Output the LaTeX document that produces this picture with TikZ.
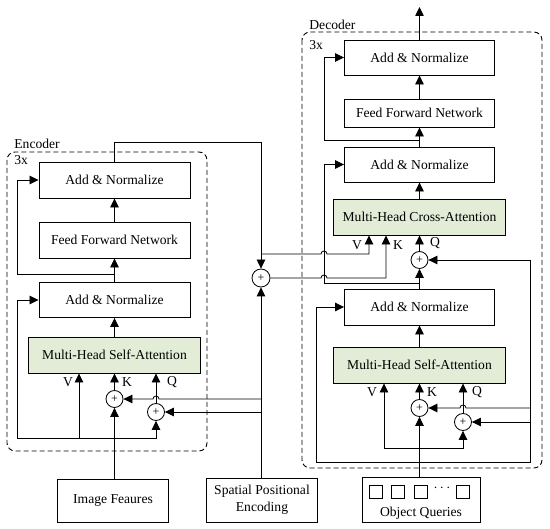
\documentclass[tikz,border=0pt]{standalone}
\usepackage{fontspec}
\setmainfont{Liberation Serif}
\usetikzlibrary{arrows.meta}
\definecolor{attngreen}{RGB}{226,236,214}
\tikzset{
  blk/.style={draw, line width=0.9pt, minimum width=151pt, minimum height=36pt, inner sep=0pt},
  attn/.style={blk, fill=attngreen, minimum width=172pt},
  addc/.style={draw, circle, line width=0.8pt, minimum size=17pt, inner sep=0pt, font=\fontsize{12}{12}\selectfont},
  arr/.style={-{Triangle[length=9pt,width=8.5pt]}},
  frame/.style={draw, dash pattern=on 5pt off 3pt, rounded corners=8pt, line width=0.9pt},
  lbl/.style={inner sep=0pt},
  qsq/.style={draw, line width=0.8pt, minimum size=13pt, inner sep=0pt},
}
\begin{document}
\begin{tikzpicture}[x=1pt, y=-1pt, line width=0.8pt, font=\fontsize{13.6}{17}\selectfont]
\useasboundingbox (0,0) rectangle (550,529);
% dashed frames
\draw[frame] (7,152) rectangle (207,451);
\draw[frame] (302,32) rectangle (542,468);
\node[lbl, anchor=west] (encname) at (14,144) {Encoder};
\node[lbl, anchor=west] (enc3x) at (14,160) {3x};
\node[lbl, anchor=west] (decname) at (309,25) {Decoder};
\node[lbl, anchor=west] (dec3x) at (309,45) {3x};

% encoder
\node[attn] (encMHSA) at (114.5,355) {Multi-Head Self-Attention};
\node[blk, minimum height=35pt] (encAN1) at (114.5,300) {Add \& Normalize};
\node[blk] (encFFN) at (114.5,240) {Feed Forward Network};
\node[blk] (encAN2) at (114.5,180) {Add \& Normalize};
\node[addc] (encPK) at (114.5,399) {+};
\node[addc] (encPQ) at (156,412) {+};
\node[lbl] (encVl) at (68,382) {V};
\node[lbl] (encKl) at (127,382) {K};
\node[lbl] (encQl) at (172,382) {Q};

% inputs
\node[blk, minimum width=111pt, minimum height=43pt] (imgF) at (113,500.5) {Image Feaures};
\node[blk, minimum width=111pt, minimum height=44pt, align=center] (spe) at (262,500) {Spatial Positional\\Encoding};
\node[blk, minimum width=118pt, minimum height=45pt] (objQ) at (421,499.5) {};
\foreach \i/\x in {1/375.5, 2/398, 3/420.5, 4/462.5}
  \node[qsq] (sq\i) at (\x,491.5) {};
\node[lbl] (qdots) at (442,488) {$\cdots$};
\node[lbl] (objQl) at (421,513) {Object Queries};
\node[addc, minimum size=18pt] (midP) at (261,278) {+};

% decoder
\node[blk, minimum width=150pt, minimum height=35pt] (decAN3) at (419.5,57.5) {Add \& Normalize};
\node[blk, minimum width=150pt, minimum height=28pt] (decFFN) at (419.5,113) {Feed Forward Network};
\node[blk, minimum width=150pt, minimum height=35pt] (decAN2) at (419.5,164.5) {Add \& Normalize};
\node[attn] (decMHCA) at (419.5,217) {Multi-Head Cross-Attention};
\node[addc] (decPQ1) at (419.5,260) {+};
\node[blk, minimum width=150pt] (decAN1) at (419.5,307) {Add \& Normalize};
\node[attn] (decMHSA) at (419.5,365) {Multi-Head Self-Attention};
\node[addc] (decPK) at (419.5,408) {+};
\node[addc] (decPQ) at (463,422) {+};
\node[lbl] (caVl) at (357,245) {V};
\node[lbl] (caKl) at (398,245) {K};
\node[lbl] (caQl) at (435,243) {Q};
\node[lbl] (saVl) at (372,392) {V};
\node[lbl] (saKl) at (432,392) {K};
\node[lbl] (saQl) at (477,392) {Q};

% encoder wiring
\coordinate (encR1) at (114.5,274);
\coordinate (encB) at (17,438);
\coordinate (encV) at (79,438);
\coordinate (encTop) at (114.5,142);
\coordinate (encOut) at (261,254);
\coordinate (posK) at (261,399);
\coordinate (posQ) at (261,412);
\draw[arr] (encMHSA) -- (encAN1);
\draw[arr] (encAN1) -- (encFFN);
\draw[arr] (encFFN) -- (encAN2);
\draw[arr] (encR1) -| (17,180) -- (encAN2.west);
\draw[arr] (encB) |- (encAN1.west);
\draw[arr] (encB) -| (encPQ.south);
\draw[arr] (encV) -- (encMHSA.south -| encV);
\draw[arr] (encPK) -- (encMHSA.south -| encPK);
\draw[arr] (encPQ) -- (encMHSA.south -| encPQ);
\draw[arr] (imgF.north -| encPK) -- (encPK.south);
\draw[arr] (spe.north -| midP) -- (midP.south);
\draw[arr] (posK) -- (159,399) arc[start angle=0, end angle=180, radius=3pt] -- (encPK.east);
\draw[arr] (posQ) -- (encPQ.east);
\draw[arr] (encAN2) -- (encTop) -| (midP.north);

% encoder to decoder
\coordinate (decV) at (369,254);
\coordinate (decK) at (386,278);
\draw[arr] (encOut) -- (321,254) arc[start angle=180, end angle=0, radius=3pt] -- (decV) -- (decMHCA.south -| decV);
\draw[arr] (midP) -- (321,278) arc[start angle=180, end angle=0, radius=3pt] -- (decK) -- (decMHCA.south -| decK);

% decoder wiring
\coordinate (decR1) at (419.5,283);
\coordinate (decR2) at (419.5,140);
\coordinate (decOut) at (419.5,7);
\coordinate (decB) at (316,462);
\coordinate (decBR) at (530,462);
\coordinate (qpK) at (530,408);
\coordinate (qpQ) at (530,422);
\coordinate (decV2) at (384,448);
\draw[arr] (decMHSA) -- (decAN1);
\draw[arr] (decAN1) -- (decPQ1);
\draw[arr] (decPQ1) -- (decMHCA);
\draw[arr] (decMHCA) -- (decAN2);
\draw[arr] (decAN2) -- (decFFN);
\draw[arr] (decFFN) -- (decAN3);
\draw[arr] (decAN3) -- (decOut);
\draw[arr] (decR2) -| (324,57.5) -- (decAN3.west);
\draw[arr] (decR1) -| (324,164.5) -- (decAN2.west);
\draw[arr] (decB) |- (decAN1.west);
\draw[arr] (decB) -- (decBR) |- (decPQ1.east);
\draw[arr] (qpK) -- (466,408) arc[start angle=0, end angle=180, radius=3pt] -- (decPK.east);
\draw[arr] (qpQ) -- (decPQ.east);
\draw[arr] (decV2) -- (decMHSA.south -| decV2);
\draw[arr] (decV2) -| (decPQ.south);
\draw[arr] (objQ.north -| decPK) -- (decPK.south);
\draw[arr] (decPK) -- (decMHSA.south -| decPK);
\draw[arr] (decPQ) -- (decMHSA.south -| decPQ);
\end{tikzpicture}
\end{document}
